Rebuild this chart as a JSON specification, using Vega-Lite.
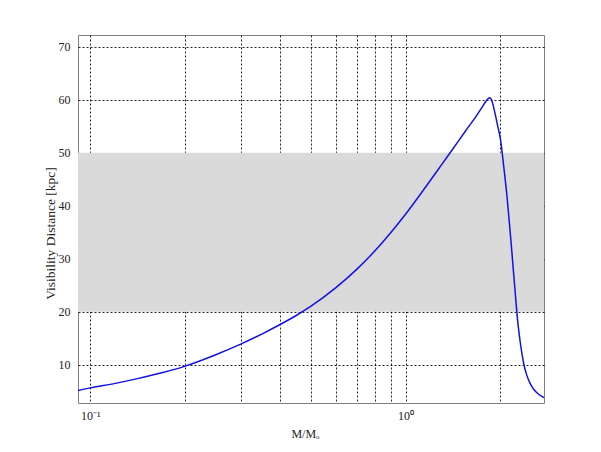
{
  "$schema": "https://vega.github.io/schema/vega-lite/v6.json",
  "autosize": "none",
  "width": 466,
  "height": 368,
  "padding": {"left": 78, "top": 35, "right": 57, "bottom": 49},
  "background": "white",
  "config": {
    "view": {"stroke": "#808080", "strokeWidth": 1},
    "axis": {
      "labelFont": "Liberation Serif",
      "titleFont": "Liberation Serif",
      "labelFontSize": 12,
      "titleFontSize": 12,
      "titleFontWeight": "normal",
      "labelColor": "#222",
      "titleColor": "#222",
      "grid": true,
      "gridColor": "#000",
      "gridOpacity": 0.85,
      "gridDash": [2, 2],
      "gridWidth": 1,
      "domain": false,
      "ticks": false,
      "zindex": 1
    }
  },
  "datasets": {
    "band": [{"lo": 20, "hi": 50}],
    "curve": [
      {"m": 0.0914, "d": 5.15},
      {"m": 0.1, "d": 5.65},
      {"m": 0.12, "d": 6.5},
      {"m": 0.14, "d": 7.35},
      {"m": 0.17, "d": 8.55},
      {"m": 0.2, "d": 9.75},
      {"m": 0.25, "d": 11.9},
      {"m": 0.3, "d": 13.9},
      {"m": 0.35, "d": 15.8},
      {"m": 0.4, "d": 17.6},
      {"m": 0.45, "d": 19.3},
      {"m": 0.5, "d": 21.0},
      {"m": 0.6, "d": 24.5},
      {"m": 0.7, "d": 28.0},
      {"m": 0.8, "d": 31.5},
      {"m": 0.9, "d": 35.0},
      {"m": 1.0, "d": 38.4},
      {"m": 1.1, "d": 41.7},
      {"m": 1.2, "d": 44.8},
      {"m": 1.3, "d": 47.7},
      {"m": 1.42, "d": 50.9},
      {"m": 1.55, "d": 54.1},
      {"m": 1.68, "d": 57.0},
      {"m": 1.75, "d": 58.6},
      {"m": 1.8, "d": 59.7},
      {"m": 1.83, "d": 60.2},
      {"m": 1.85, "d": 60.35},
      {"m": 1.87, "d": 60.1},
      {"m": 1.89, "d": 59.3},
      {"m": 1.92, "d": 57.6},
      {"m": 1.96, "d": 55.1},
      {"m": 2.0, "d": 52.6},
      {"m": 2.05, "d": 47.3},
      {"m": 2.1, "d": 41.6},
      {"m": 2.15, "d": 34.8},
      {"m": 2.18, "d": 30.5},
      {"m": 2.22, "d": 24.8},
      {"m": 2.25, "d": 20.6},
      {"m": 2.28, "d": 17.1},
      {"m": 2.32, "d": 13.6},
      {"m": 2.37, "d": 10.3},
      {"m": 2.42, "d": 8.2},
      {"m": 2.48, "d": 6.6},
      {"m": 2.55, "d": 5.4},
      {"m": 2.65, "d": 4.4},
      {"m": 2.75, "d": 3.8}
    ]
  },
  "layer": [
    {
      "data": {"name": "band"},
      "mark": {"type": "rect", "color": "#dadada", "opacity": 1},
      "encoding": {
        "y": {
          "field": "lo", "type": "quantitative",
          "scale": {"domain": [2.8, 72.2], "nice": false, "zero": false},
          "axis": {
            "values": [10, 20, 30, 40, 50, 60, 70],
            "labelPadding": 8,
            "title": "Visibility Distance  [kpc]",
            "titleFontSize": 13.5,
            "titleX": -28,
            "titleY": 198,
            "titleAngle": -90,
            "titleAlign": "center",
            "titleBaseline": "middle"
          }
        },
        "y2": {"field": "hi"}
      }
    },
    {
      "data": {"name": "curve"},
      "mark": {"type": "line", "color": "#1212e6", "strokeWidth": 1.5, "interpolate": "monotone", "clip": true},
      "encoding": {
        "x": {
          "field": "m", "type": "quantitative",
          "scale": {"type": "log", "domain": [0.0914, 2.75], "nice": false},
          "axis": {
            "values": [0.1, 0.2, 0.3, 0.4, 0.5, 0.6, 0.7, 0.8, 0.9, 1, 2],
            "labelExpr": "datum.value == 0.1 ? '10⁻¹' : (datum.value == 1 ? '10⁰' : '')",
            "labelPadding": 7,
            "title": "M/Mₒ",
            "titleX": 227,
            "titleY": 30,
            "titleBaseline": "middle"
          }
        },
        "y": {
          "field": "d", "type": "quantitative",
          "scale": {"domain": [2.8, 72.2], "nice": false, "zero": false},
          "axis": {
            "values": [10, 20, 30, 40, 50, 60, 70],
            "labelPadding": 8,
            "title": "Visibility Distance  [kpc]",
            "titleFontSize": 13.5,
            "titleX": -28,
            "titleY": 198,
            "titleAngle": -90,
            "titleAlign": "center",
            "titleBaseline": "middle"
          }
        }
      }
    }
  ]
}
